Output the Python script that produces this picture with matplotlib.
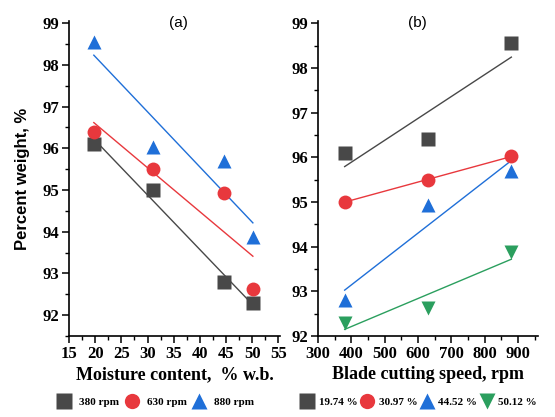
import numpy as np
import matplotlib
matplotlib.use("Agg")
import matplotlib.pyplot as plt
from matplotlib.ticker import MultipleLocator
from matplotlib.lines import Line2D

moisture = [19.74, 30.97, 44.52, 50.12]
speeds = [380, 630, 880]
speed_labels = ["380 rpm", "630 rpm", "880 rpm"]
moist_labels = ["19.74 %", "30.97 %", "44.52 %", "50.12 %"]

# rows: speed, cols: moisture
w380 = [96.1, 95.0, 92.8, 92.3]
w630 = [96.4, 95.5, 94.93, 92.63]
w880 = [98.55, 96.02, 95.7, 93.87]
by_speed = [w380, w630, w880]
by_moist = [list(col) for col in zip(*by_speed)]

colors = ["#484848", "#e8383d", "#1f6fd8", "#2b9f5e"]
markers = ["s", "o", "^", "v"]

serif = "Liberation Serif"
sans = "Liberation Sans"

fig = plt.figure(figsize=(5.55, 4.17), dpi=100)
axA = fig.add_axes([69/555, 1-336/417, (280-69)/555, (336-21)/417])
axB = fig.add_axes([318/555, 1-336/417, (538-318)/555, (336-21)/417])

def fit_line(ax, x, y, c):
    p = np.polyfit(x, y, 1)
    xx = np.array([min(x), max(x)])
    ax.plot(xx, np.polyval(p, xx), color=c, lw=1.0, zorder=2)

for i, ys in enumerate(by_speed):
    fit_line(axA, moisture, ys, colors[i])
    axA.plot(moisture, ys, ls="none", marker=markers[i], ms=10, color=colors[i], mec="none", zorder=3)

for j, ys in enumerate(by_moist):
    fit_line(axB, speeds, ys, colors[j])
    axB.plot(speeds, ys, ls="none", marker=markers[j], ms=10, color=colors[j], mec="none", zorder=3)

axA.set_xlim(15, 55.3)
axA.set_ylim(91.5, 99.05)
axA.xaxis.set_major_locator(MultipleLocator(5))
axA.xaxis.set_minor_locator(MultipleLocator(2.5))
axB.set_xlim(300, 960)
axB.set_ylim(92, 99.05)
axB.xaxis.set_major_locator(MultipleLocator(100))
axB.xaxis.set_minor_locator(MultipleLocator(50))

for ax in (axA, axB):
    ax.spines["top"].set_visible(False)
    ax.spines["right"].set_visible(False)
    for s in ("left", "bottom"):
        ax.spines[s].set_linewidth(1.2)
    ax.yaxis.set_major_locator(MultipleLocator(1))
    ax.yaxis.set_minor_locator(MultipleLocator(0.5))
    ax.tick_params(which="major", direction="out", length=5, width=1.1, pad=2)
    ax.tick_params(which="minor", direction="out", length=3, width=1.0)
    for lab in ax.get_xticklabels() + ax.get_yticklabels():
        lab.set_fontfamily(serif)
        lab.set_fontweight("bold")
        lab.set_fontsize(12)

axA.set_xlabel("Moisture content,  % w.b.", fontfamily=serif, fontweight="bold", fontsize=13, labelpad=3)
axB.set_xlabel("Blade cutting speed, rpm", fontfamily=serif, fontweight="bold", fontsize=13, labelpad=3)
axA.set_ylabel("Percent weight, %", fontfamily=sans, fontweight="bold", fontsize=12, labelpad=9)

axA.text(0.52, 0.995, "(a)", transform=axA.transAxes, ha="center", va="center", fontfamily=sans, fontsize=11)
axB.text(0.45, 0.995, "(b)", transform=axB.transAxes, ha="center", va="center", fontfamily=sans, fontsize=11)

def make_legend(labels, n, cx, tpad, cspace):
    handles = [Line2D([], [], ls="none", marker=markers[i], color=colors[i], mec="none", ms=11) for i in range(n)]
    leg = fig.legend(handles, labels, loc="center", bbox_to_anchor=(cx, 1-402/417), ncol=n,
                     frameon=False, handletextpad=tpad, columnspacing=cspace, handlelength=1.1,
                     borderpad=0.1, prop={"family": serif, "weight": "bold", "size": 8})
    return leg

make_legend(speed_labels, 3, 156/555, 0.8, 0.6)
make_legend(moist_labels, 4, 419/555, 0.5, 0.3)

fig.savefig("out.png", dpi=100)
